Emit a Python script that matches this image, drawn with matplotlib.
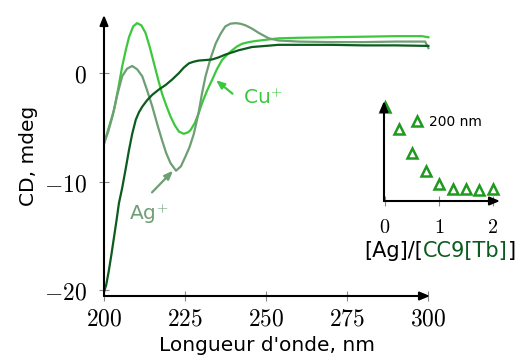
import matplotlib
matplotlib.use("Agg")
import matplotlib.pyplot as plt
import numpy as np

# spectra (wavelength in nm, CD in mdeg)
cu_wl = [200, 201.5, 203.1, 204.4, 205.6, 206.7, 207.7, 209, 210.2, 211.5, 212.8, 214.1, 215.4,
         216.7, 217.9, 219.2, 220.5, 221.8, 223.1, 224.6, 226, 226.7, 228, 229.2, 230.2, 231.8,
         233.3, 234.8, 236.4, 238, 239.5, 241, 242.6, 244.6, 246.7, 250.8, 253.8, 260, 270,
         280, 290, 298, 300]
cu_cd = [-6.5, -5.0, -3.4, -1.4, 0.6, 2.1, 3.3, 4.3, 4.6, 4.4, 3.7, 2.4, 0.9,
         -0.6, -1.9, -3.0, -4.0, -4.8, -5.4, -5.6, -5.45, -5.25, -4.6, -3.7, -2.8, -1.6,
         -0.65, 0.35, 1.2, 1.7, 2.1, 2.45, 2.7, 2.85, 2.95, 3.1, 3.2, 3.25, 3.3,
         3.35, 3.4, 3.4, 3.3]

ag_wl = [200, 201.3, 202.6, 204.1, 205.6, 207.1, 208.7, 210.2, 211.8, 213.3, 214.9, 216.4,
         217.9, 219.2, 220.5, 222.2, 223.7, 225.1, 226.4, 227.7, 229.2, 230.2, 231.3, 232.8,
         234.4, 235.9, 237.4, 239, 240.5, 242, 243.6, 245.6, 247.7, 250.8, 253.8, 260, 270,
         280, 290, 299, 300]
ag_cd = [-6.5, -5.4, -4.0, -2.0, -0.3, 0.4, 0.65, 0.35, -0.3, -1.6, -3.1, -4.7,
         -6.2, -7.4, -8.3, -9.0, -8.6, -7.7, -6.8, -5.6, -3.6, -1.9, -0.3, 1.3,
         2.7, 3.6, 4.3, 4.55, 4.6, 4.55, 4.4, 4.1, 3.7, 3.2, 3.0, 2.9, 2.85,
         2.85, 2.9, 2.9, 2.3]

tb_wl = [200, 200.7, 201.5, 202.3, 203.1, 203.9, 204.6, 205.6, 206.7, 207.7, 208.7, 209.8,
         210.8, 211.8, 213.3, 214.9, 217, 219, 221, 223.1, 224.6, 226.2, 227.7, 229.2, 231.3,
         233.3, 235.4, 237.4, 239.5, 241.5, 243.6, 245.6, 249.8, 253.8, 260, 270, 280, 290, 300]
tb_cd = [-20.2, -19.5, -18.2, -16.7, -15.1, -13.5, -12.0, -10.6, -8.8, -7.1, -5.6, -4.3,
         -3.6, -3.1, -2.5, -2.0, -1.5, -1.1, -0.6, 0.0, 0.5, 0.9, 1.05, 1.15, 1.2,
         1.25, 1.45, 1.7, 1.9, 2.1, 2.25, 2.4, 2.5, 2.6, 2.6, 2.6, 2.55, 2.55, 2.5]

# titration inset: ratio [Ag]/[CC9[Tb]] vs CD at 200 nm (arbitrary units)
ratio = [0, 0.25, 0.5, 0.75, 1.0, 1.25, 1.5, 1.75, 2.0]
cd200 = [94, 72, 48, 30, 17, 12, 12, 11, 12]

xticks = [200, 225, 250, 275, 300]
yticks = [0, -10, -20]

c_cu = "#3cc83c"
c_ag = "#6e9e74"
c_tb = "#0b5c1e"
c_pt = "#1f9a1f"

plt.rcParams["font.family"] = "DejaVu Sans"
plt.rcParams["mathtext.fontset"] = "cm"

fig = plt.figure(figsize=(5.21, 3.6), dpi=100)
W, H = 521.0, 360.0

ax = fig.add_axes([104 / W, 1 - 296 / H, (430 - 104) / W, (296 - 15) / H])
ax.plot(cu_wl, cu_cd, color=c_cu, lw=1.6, solid_joinstyle="round")
ax.plot(ag_wl, ag_cd, color=c_ag, lw=1.6, solid_joinstyle="round")
ax.plot(tb_wl, tb_cd, color=c_tb, lw=1.6, solid_joinstyle="round")
ax.set_xlim(200, 300.5)
ax.set_ylim(-20.55, 5.35)
for s in ax.spines.values():
    s.set_visible(False)
ax.annotate("", xy=(1.0, 0), xytext=(0, 0), xycoords="axes fraction",
            arrowprops=dict(arrowstyle="-|>,head_length=0.6,head_width=0.25", color="black", lw=1.5,
                            shrinkA=0, shrinkB=0))
ax.annotate("", xy=(0, 1.0), xytext=(0, 0), xycoords="axes fraction",
            arrowprops=dict(arrowstyle="-|>,head_length=0.6,head_width=0.25", color="black", lw=1.5,
                            shrinkA=0, shrinkB=0))
ax.set_xticks(xticks)
ax.set_xticklabels(["$%d$" % v for v in xticks], fontsize=17)
ax.set_yticks(yticks)
ax.set_yticklabels(["$%d$" % v for v in yticks], fontsize=17)
ax.tick_params(direction="inout", length=7, width=0.8, color="#888888")
ax.tick_params(axis="x", pad=4)
ax.tick_params(axis="y", pad=9)
ax.set_xlabel("Longueur d'onde, nm", fontsize=14.5, labelpad=4)
ax.set_ylabel("CD, mdeg", fontsize=14.5, labelpad=4)

# ion labels with their arrows
arrow_kw = "-|>,head_length=0.5,head_width=0.2"
ax.text(243, -2.3, "Cu$^{+}$", color=c_cu, fontsize=14.5, va="center", ha="left")
ax.annotate("", xy=(234.5, -0.65), xytext=(239.6, -1.9),
            arrowprops=dict(arrowstyle=arrow_kw, color=c_cu, lw=1.6, shrinkA=0, shrinkB=0))
ax.text(213.8, -13.0, "Ag$^{+}$", color=c_ag, fontsize=14.5, va="center", ha="center")
ax.annotate("", xy=(221.3, -9.0), xytext=(214.8, -11.0),
            arrowprops=dict(arrowstyle=arrow_kw, color=c_ag, lw=1.6, shrinkA=0, shrinkB=0))

# inset
ax_in = fig.add_axes([384 / W, 1 - 201 / H, (500 - 384) / W, (201 - 101) / H])
ax_in.plot(ratio, cd200, linestyle="none", marker="^", markersize=7.5, markerfacecolor="none",
           markeredgecolor=c_pt, markeredgewidth=1.8, label="200 nm", clip_on=False)
ax_in.set_xlim(-0.02, 2.13)
ax_in.set_ylim(0, 100)
for s in ax_in.spines.values():
    s.set_visible(False)
ax_in.annotate("", xy=(1.0, 0), xytext=(0, 0), xycoords="axes fraction",
               arrowprops=dict(arrowstyle="-|>,head_length=0.6,head_width=0.25", color="black", lw=1.5,
                               shrinkA=0, shrinkB=0))
ax_in.annotate("", xy=(0, 1.0), xytext=(0, 0), xycoords="axes fraction",
               arrowprops=dict(arrowstyle="-|>,head_length=0.6,head_width=0.25", color="black", lw=1.5,
                               shrinkA=0, shrinkB=0))
ax_in.set_xticks([0, 1, 2])
ax_in.set_xticklabels(["$0$", "$1$", "$2$"], fontsize=14.5)
ax_in.set_yticks([])
ax_in.tick_params(direction="inout", length=7, width=0.8, color="#888888", pad=9)
ax_in.legend(loc="center left", bbox_to_anchor=(0.24, 0.79), frameon=False, fontsize=10,
             handlelength=0.8, handletextpad=0.4, borderpad=0, borderaxespad=0, numpoints=1)

# inset x label in three colours
fig.canvas.draw()
r = fig.canvas.get_renderer()
x0, yl = 364 / W, 1 - 251 / H
parts = [("[Ag]/[", "black"), ("CC9[Tb]", c_tb), ("]", "black")]
x = x0
for txt, col in parts:
    t = fig.text(x, yl, txt, color=col, fontsize=15, va="center", ha="left")
    bb = t.get_window_extent(renderer=r)
    x = x + bb.width / fig.bbox.width

fig.savefig("out.png", dpi=100)
